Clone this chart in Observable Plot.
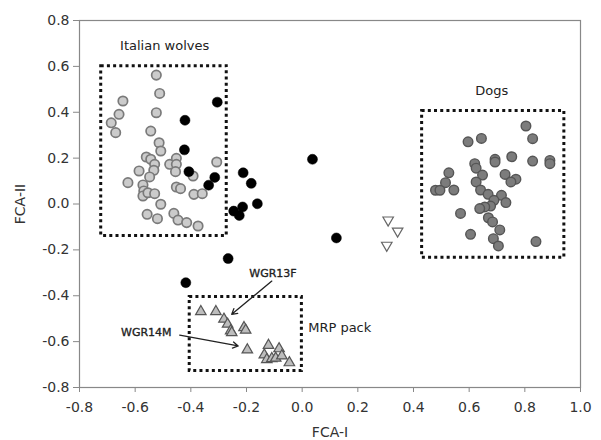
<!DOCTYPE html>
<html><head><meta charset="utf-8">
<script src="https://cdn.jsdelivr.net/npm/d3@7"></script>
<script src="https://cdn.jsdelivr.net/npm/@observablehq/plot@0.6"></script>
<style>
body{margin:0;background:#fff;}
#chart svg{display:block;}
#chart [aria-label="x-axis tick"] path, #chart [aria-label="y-axis tick"] path,
#chart [aria-label="x-axis tick"], #chart [aria-label="y-axis tick"]{stroke:#888;}
</style>
</head><body><div id="chart"></div>
<script>
// Italian wolves (light grey circles)
const wolvesX = [-0.524,-0.512,-0.524,-0.644,-0.658,-0.686,-0.670,-0.544,-0.514,-0.508,-0.560,-0.544,-0.530,-0.533,-0.548,-0.586,-0.626,-0.572,-0.569,-0.572,-0.554,-0.530,-0.476,-0.452,-0.452,-0.455,-0.392,-0.452,-0.437,-0.389,-0.359,-0.307,-0.508,-0.557,-0.520,-0.461,-0.446,-0.415,-0.374];
const wolvesY = [0.562,0.482,0.398,0.449,0.391,0.354,0.311,0.318,0.267,0.231,0.205,0.195,0.173,0.147,0.118,0.144,0.093,0.083,0.057,0.035,0.049,0.045,0.173,0.199,0.173,0.141,0.122,0.074,0.067,0.042,0.045,0.183,-0.001,-0.045,-0.064,-0.041,-0.070,-0.081,-0.096];
// other wolves (black circles)
const blackX = [-0.305,-0.421,-0.423,-0.407,-0.314,-0.336,-0.212,-0.183,-0.161,-0.246,-0.226,-0.214,0.037,0.123,-0.266,-0.418];
const blackY = [0.444,0.365,0.236,0.141,0.116,0.082,0.136,0.090,0.001,-0.031,-0.050,-0.013,0.195,-0.148,-0.238,-0.343];
// white downward triangles
const triDownX = [0.309,0.343,0.304];
const triDownY = [-0.070,-0.118,-0.180];
// Dogs (dark grey circles)
const dogsX = [0.804,0.828,0.644,0.596,0.753,0.693,0.693,0.828,0.890,0.890,0.620,0.625,0.527,0.648,0.729,0.768,0.750,0.625,0.515,0.479,0.495,0.545,0.641,0.668,0.716,0.689,0.732,0.677,0.656,0.638,0.569,0.669,0.684,0.710,0.605,0.687,0.705,0.840];
const dogsY = [0.340,0.285,0.286,0.271,0.206,0.195,0.183,0.187,0.190,0.176,0.176,0.156,0.136,0.126,0.129,0.108,0.096,0.096,0.093,0.060,0.060,0.061,0.061,0.042,0.038,0.016,0.006,-0.009,-0.013,-0.020,-0.041,-0.060,-0.078,-0.113,-0.132,-0.151,-0.183,-0.164];
// MRP pack (grey upward triangles)
const mrpX = [-0.364,-0.310,-0.281,-0.268,-0.257,-0.209,-0.203,-0.253,-0.197,-0.121,-0.083,-0.136,-0.127,-0.109,-0.095,-0.073,-0.046];
const mrpY = [-0.469,-0.469,-0.502,-0.524,-0.553,-0.539,-0.550,-0.561,-0.636,-0.616,-0.631,-0.658,-0.678,-0.674,-0.672,-0.662,-0.692];
// dotted group boxes
const boxNames = ["Italian wolves","Dogs","MRP pack"];
const boxX1 = [-0.722,0.431,-0.404];
const boxX2 = [-0.271,0.942,-0.001];
const boxY1 = [-0.139,-0.234,-0.728];
const boxY2 = [0.601,0.405,-0.405];
// group labels
const labelText = ["Italian wolves","Dogs","MRP pack"];
const labelX = [-0.494,0.681,0.135];
const labelY = [0.688,0.492,-0.540];
// individual annotations
const noteText = ["WGR13F","WGR14M"];
const noteX = [-0.105,-0.560];
const noteY = [-0.301,-0.562];
const arrowX1 = [-0.109,-0.440];
const arrowY1 = [-0.336,-0.572];
const arrowX2 = [-0.253,-0.230];
const arrowY2 = [-0.481,-0.619];
// ticks
const xTicks = [-0.8,-0.6,-0.4,-0.2,0.0,0.2,0.4,0.6,0.8,1.0];
const yTicks = [-0.8,-0.6,-0.4,-0.2,0.0,0.2,0.4,0.6,0.8];

const zip = (xs, ys) => xs.map((x, i) => ({x, y: ys[i]}));
const boxes = boxNames.map((n, i) => ({n, x1: boxX1[i], x2: boxX2[i], y1: boxY1[i], y2: boxY2[i]}));
const labels = labelText.map((t, i) => ({t, x: labelX[i], y: labelY[i]}));
const notes = noteText.map((t, i) => ({t, x: noteX[i], y: noteY[i], x1: arrowX1[i], y1: arrowY1[i], x2: arrowX2[i], y2: arrowY2[i]}));

const chart = Plot.plot({
  width: 601, height: 440,
  marginLeft: 79, marginRight: 21, marginTop: 20, marginBottom: 53,
  style: {fontFamily: "DejaVu Sans, Verdana, sans-serif", fontSize: "14px", color: "#333", background: "#fff"},
  x: {domain: [-0.8, 1.0], ticks: xTicks, tickFormat: d => d.toFixed(1), tickSize: 5, tickPadding: 10,
      label: "FCA-I", labelAnchor: "center", labelOffset: 49, labelArrow: "none"},
  y: {domain: [-0.8, 0.8], ticks: yTicks, tickFormat: d => d.toFixed(1), tickSize: 6, tickPadding: 4,
      label: "FCA-II", labelAnchor: "center", labelOffset: 64, labelArrow: "none"},
  marks: [
    Plot.frame({stroke: "#888", strokeWidth: 1.2}),
    Plot.rect(boxes, {x1: "x1", x2: "x2", y1: "y1", y2: "y2", fill: "none", stroke: "#111", strokeWidth: 3, strokeDasharray: "3,3.2"}),
    Plot.dot(zip(wolvesX, wolvesY), {x: "x", y: "y", r: 4.7, fill: "#cbcbcb", stroke: "#7a7a7a", strokeWidth: 1.7}),
    Plot.dot(zip(blackX, blackY), {x: "x", y: "y", r: 5, fill: "#000", stroke: "#000", strokeWidth: 0.5}),
    Plot.dot(zip(triDownX, triDownY), {x: "x", y: "y", symbol: "triangle", rotate: 180, r: 3.9, fill: "#fff", stroke: "#666", strokeWidth: 1.2}),
    Plot.dot(zip(dogsX, dogsY), {x: "x", y: "y", r: 4.8, fill: "#7c7c7c", stroke: "#555", strokeWidth: 1.4}),
    Plot.dot(zip(mrpX, mrpY), {x: "x", y: "y", symbol: "triangle", r: 3.9, fill: "#bdbdbd", stroke: "#555", strokeWidth: 1.2}),
    Plot.text(labels, {x: "x", y: "y", text: "t", fontSize: 13, fill: "#222"}),
    Plot.arrow(notes, {x1: "x1", y1: "y1", x2: "x2", y2: "y2", stroke: "#222", strokeWidth: 1.3, headLength: 7}),
    Plot.text(notes, {x: "x", y: "y", text: "t", fontSize: 11, fill: "#222", stroke: "#222", strokeWidth: 0.35})
  ]
});
document.getElementById("chart").appendChild(chart);
</script>
</body></html>
